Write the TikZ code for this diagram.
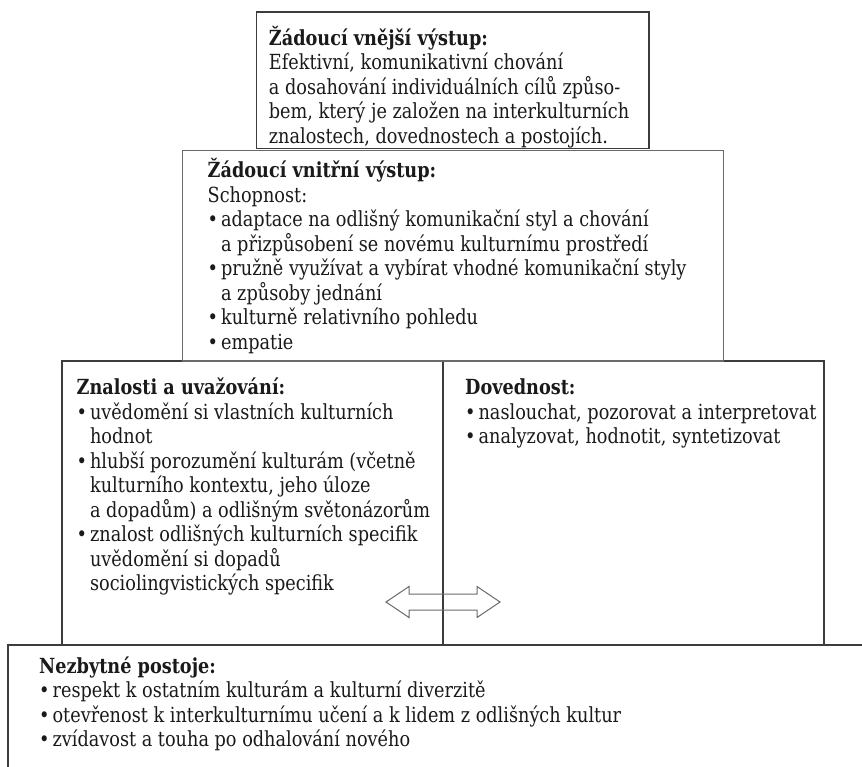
\documentclass[tikz,border=0pt]{standalone}
\usepackage{fontspec}
\setmainfont{DejaVu Serif}[FakeStretch=0.85]
\newcommand\mainsz{\fontsize{20.8}{24.5}\selectfont}
\newcommand\mystrut{\rule{0pt}{22pt}}
\newcommand\bul{\makebox[13.4pt][l]{\textbullet}}
\newcommand\ind{\makebox[13.4pt]{}}
\definecolor{edge}{HTML}{3C3C3C}
\definecolor{edgelight}{HTML}{6A6A6A}
\definecolor{ink}{HTML}{1A1A1A}
\begin{document}
\begin{tikzpicture}[x=1pt,y=-1pt,
  boxline/.style={draw=edge, line width=1.1pt},
  box/.style={rectangle, boxline, inner sep=0pt, outer sep=0pt, anchor=north west},
  boxlight/.style={box, draw=edgelight},
  txt/.style={inner sep=0pt, anchor=north west, align=left, font=\mainsz, text=ink},
  arrline/.style={draw=edgelight, line width=1pt, line join=miter}]
\useasboundingbox (0,0) rectangle (862,767);
\fill[white] (0,0) rectangle (862,767);

% bottom box (open at right and bottom)
\node[inner sep=0pt, outer sep=0pt, anchor=north west, minimum width=854pt, minimum height=122pt] (b4) at (8,645) {};
\draw[boxline] (b4.north east) -- (b4.north west) -- (b4.south west);

% middle lower box
\node[box, minimum width=762pt, minimum height=284pt] (b3) at (62,361) {};
\coordinate (dv) at (443,500);
\draw[boxline] (dv |- b3.north) -- (dv |- b3.south);

% inner output box
\node[boxlight, minimum width=540.8pt, minimum height=210.5pt] (b2) at (182.5,150.5) {};

% outer output box
\node[box, minimum width=392.5pt, minimum height=136.5pt] (b1) at (256.5,12) {};

% texts
\node[txt] (t1) at (268.7,23) {\mystrut\textbf{Žádoucí vnější výstup:}\\
Efektivní, komunikativní chování\\
a dosahování individuálních cílů způso-\\
bem, který je založen na interkulturních\\
znalostech, dovednostech a postojích.};

\node[txt] (t2) at (207.5,155.5) {\mystrut\textbf{Žádoucí vnitřní výstup:}\\
Schopnost:\\
\bul adaptace na odlišný komunikační styl a chování\\
\ind a přizpůsobení se novému kulturnímu prostředí\\
\bul pružně využívat a vybírat vhodné komunikační styly\\
\ind a způsoby jednání\\
\bul kulturně relativního pohledu\\
\bul empatie};

\node[txt] (t3) at (76.5,372.5) {\mystrut\textbf{Znalosti a uvažování:}\\
\bul uvědomění si vlastních kulturních\\
\ind hodnot\\
\bul hlubší porozumění kulturám (včetně\\
\ind kulturního kontextu, jeho úloze\\
\ind a dopadům) a odlišným světonázorům\\
\bul znalost odlišných kulturních specifik\\
\ind uvědomění si dopadů\\
\ind sociolingvistických specifik};

\node[txt] (t4) at (465,372.5) {\mystrut\textbf{Dovednost:}\\
\bul naslouchat, pozorovat a interpretovat\\
\bul analyzovat, hodnotit, syntetizovat};

\node[txt] (t5) at (39,651) {\mystrut\textbf{Nezbytné postoje:}\\
\bul respekt k ostatním kulturám a kulturní diverzitě\\
\bul otevřenost k interkulturnímu učení a k lidem z odlišných kultur\\
\bul zvídavost a touha po odhalování nového};

% double arrow between knowledge and skills
\coordinate (ac) at (dv |- 0,602);
\draw[arrline] ([shift={(-57,0)}]ac) -- ([shift={(-34,-15.5)}]ac) -- ([shift={(-34,-8)}]ac)
  -- ([shift={(34,-8)}]ac) -- ([shift={(34,-15.5)}]ac) -- ([shift={(57,0)}]ac)
  -- ([shift={(34,15.5)}]ac) -- ([shift={(34,8)}]ac) -- ([shift={(-34,8)}]ac)
  -- ([shift={(-34,15.5)}]ac) -- cycle;
\end{tikzpicture}
\end{document}
